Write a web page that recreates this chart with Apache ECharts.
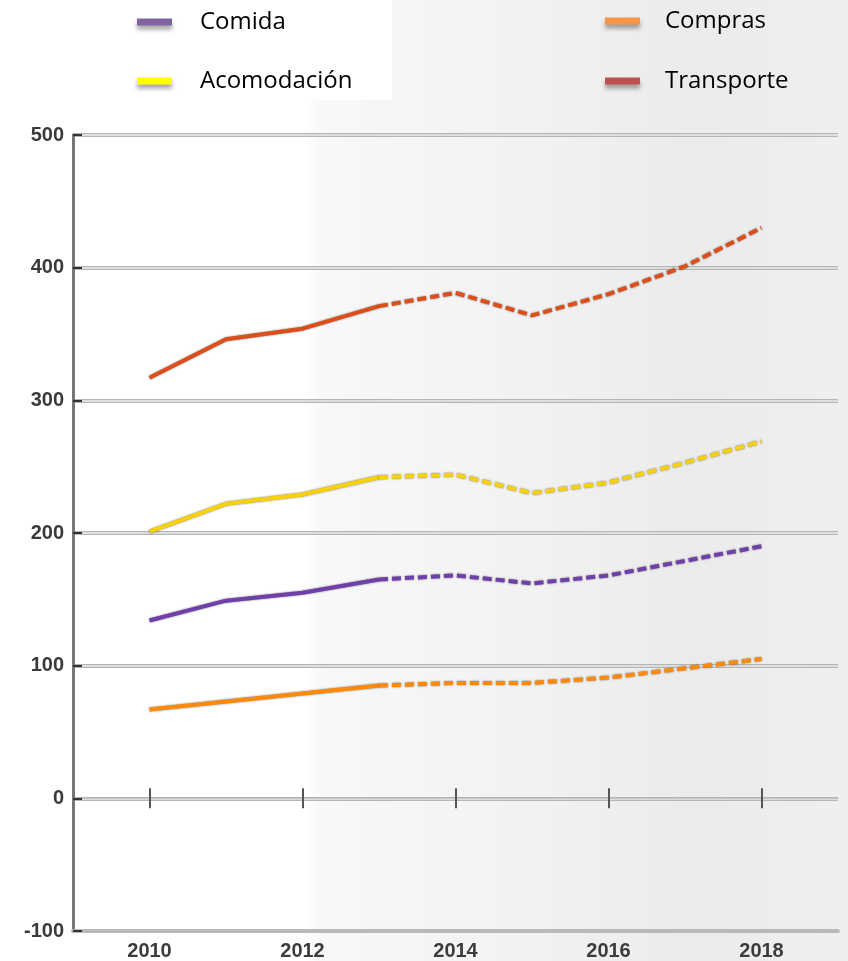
<!DOCTYPE html>
<html>
<head>
<meta charset="utf-8">
<script src="https://cdn.jsdelivr.net/npm/echarts@6/dist/echarts.min.js"></script>
<style>
  html, body { margin: 0; padding: 0; background: #ffffff; }
  #chart { width: 848px; height: 961px; }
</style>
</head>
<body>
<div id="chart"></div>
<script>
// Years on the horizontal axis
var years = [2010, 2011, 2012, 2013, 2014, 2015, 2016, 2017, 2018];
// Spending per category (solid up to 2013, projected dashed afterwards)
var comida      = [134, 149, 155, 165, 168, 162, 168, 179, 190];
var acomodacion = [201, 222, 229, 242, 244, 230, 238, 253, 269];
var compras     = [67, 73, 79, 85, 87, 87, 91, 98, 105];
var transporte  = [317, 346, 354, 371, 381, 364, 380, 401, 430];
// Last year of actual data; later points are projections
var lastActualYear = 2013;
// Tick labels
var xTickYears = [2010, 2012, 2014, 2016, 2018];
var yTicks = [-100, 0, 100, 200, 300, 400, 500];

var chart = echarts.init(document.getElementById('chart'));

function pairs(vals, from, to) {
  var out = [];
  for (var i = 0; i < years.length; i++) {
    if (years[i] >= from && years[i] <= to) out.push([years[i], vals[i]]);
  }
  return out;
}

var seriesDefs = [
  { name: 'Compras',     vals: compras,     color: '#ff8a0a' },
  { name: 'Comida',      vals: comida,      color: '#7040aa' },
  { name: 'Acomodación', vals: acomodacion, color: '#f7d10c' },
  { name: 'Transporte',  vals: transporte,  color: '#dd4f1a' }
];

var series = [];
seriesDefs.forEach(function (d) {
  var base = {
    name: d.name,
    type: 'line',
    xAxisIndex: 0,
    yAxisIndex: 0,
    showSymbol: false,
    symbol: 'none',
    silent: true,
    z: 5
  };
  series.push(Object.assign({}, base, {
    data: pairs(d.vals, years[0], lastActualYear),
    lineStyle: { color: d.color, width: 4, shadowColor: 'rgba(0,0,0,0.55)', shadowBlur: 2 },
    itemStyle: { color: d.color }
  }));
  series.push(Object.assign({}, base, {
    data: pairs(d.vals, lastActualYear, years[years.length - 1]),
    lineStyle: { color: d.color, width: 4, type: [9, 4], shadowColor: 'rgba(0,0,0,0.55)', shadowBlur: 2 },
    itemStyle: { color: d.color }
  }));
});

function legendFor(name, color, left, top, gap) {
  return {
    data: [{ name: name, itemStyle: { color: color, shadowColor: 'rgba(0,0,0,0.35)', shadowBlur: 4, shadowOffsetY: 4 } }],
    left: left,
    top: top,
    padding: 0,
    icon: 'rect',
    itemWidth: 35,
    itemHeight: 7,
    selectedMode: false,
    textStyle: {
      fontFamily: '"Open Sans", sans-serif',
      fontSize: 24,
      color: '#000000',
      lineHeight: 30,
      padding: [0, 0, 0, gap]
    }
  };
}

var option = {
  animation: false,
  backgroundColor: 'transparent',
  graphic: [
    {
      type: 'rect',
      z: -10,
      shape: { x: 0, y: 0, width: 848, height: 961 },
      style: {
        fill: {
          type: 'linear', x: 0, y: 0, x2: 1, y2: 0,
          colorStops: [
            { offset: 0, color: '#ffffff' },
            { offset: 0.36, color: '#ffffff' },
            { offset: 0.38, color: '#f8f8f8' },
            { offset: 0.62, color: '#f2f2f2' },
            { offset: 0.82, color: '#ebebeb' },
            { offset: 1, color: '#efefef' }
          ]
        }
      }
    },
    {
      type: 'rect',
      z: -9,
      shape: { x: 0, y: 0, width: 392, height: 100 },
      style: { fill: '#ffffff' }
    }
  ],
  legend: [
    legendFor('Comida', '#8064a2', 137, 7, 23),
    legendFor('Acomodación', '#ffff00', 137, 66, 23),
    legendFor('Compras', '#f79646', 605, 6, 20),
    legendFor('Transporte', '#c0504d', 605, 66, 20)
  ],
  grid: { left: 73, right: 10, top: 135, bottom: 30, containLabel: false },
  xAxis: [
    {
      type: 'value',
      min: 2009,
      max: 2019,
      axisLine: { onZero: false, show: true, lineStyle: { color: '#b9b9b9', width: 4 } },
      axisTick: { show: false },
      splitLine: { show: false },
      axisLabel: {
        customValues: xTickYears,
        margin: 10,
        color: '#3c3c3c',
        fontFamily: '"Liberation Sans", Arial, sans-serif',
        fontWeight: 'bold',
        fontSize: 20,
        formatter: function (v) { return String(v); }
      }
    },
    {
      type: 'value',
      min: 2009,
      max: 2019,
      position: 'bottom',
      axisLine: { onZero: true, onZeroAxisIndex: 0, show: true, lineStyle: { color: '#c4c4c4', width: 1 } },
      axisTick: { show: true, inside: false, length: 10, customValues: xTickYears, lineStyle: { color: '#555555', width: 2 } },
      axisLabel: { show: false },
      splitLine: { show: false }
    },
    {
      type: 'value',
      min: 2009,
      max: 2019,
      position: 'bottom',
      axisLine: { onZero: true, onZeroAxisIndex: 0, show: false },
      axisTick: { show: true, inside: true, length: 10, customValues: xTickYears, lineStyle: { color: '#555555', width: 2 } },
      axisLabel: { show: false },
      splitLine: { show: false }
    }
  ],
  yAxis: [
    {
      type: 'value',
      min: yTicks[0],
      max: yTicks[yTicks.length - 1],
      interval: 100,
      axisLine: { show: true, lineStyle: { color: '#777777', width: 3 } },
      axisTick: { show: true, inside: true, length: 9, lineStyle: { color: '#333333', width: 2 } },
      splitLine: { show: true, lineStyle: { color: '#b5b5b5', width: 4 } },
      axisLabel: {
        margin: 9,
        color: '#3a3a3a',
        fontFamily: '"Liberation Sans", Arial, sans-serif',
        fontWeight: 'bold',
        fontSize: 20
      }
    },
    {
      type: 'value',
      min: yTicks[0],
      max: yTicks[yTicks.length - 1],
      interval: 100,
      position: 'left',
      axisLine: { show: false },
      axisTick: { show: false },
      axisLabel: { show: false },
      splitLine: { show: true, lineStyle: { color: '#ececec', width: 1.5 } }
    }
  ],
  series: series
};

chart.setOption(option);
</script>
</body>
</html>
